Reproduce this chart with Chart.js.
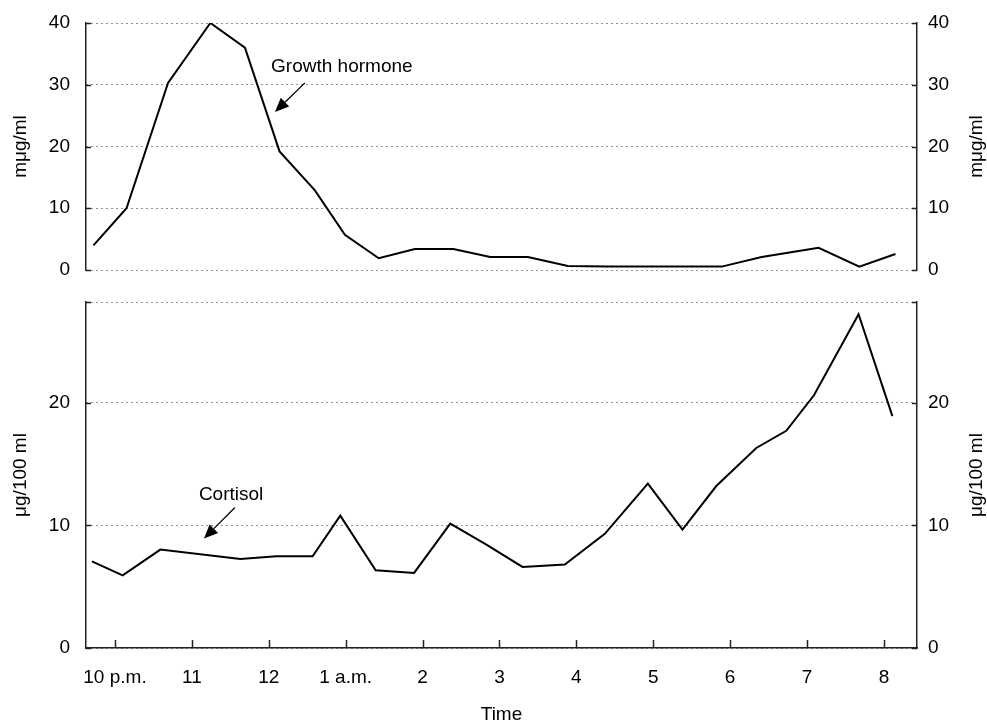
<!DOCTYPE html>
<html><head><meta charset="utf-8">
<script src="https://cdn.jsdelivr.net/npm/chart.js@4/dist/chart.umd.min.js"></script>
<style>
html,body{margin:0;padding:0;background:#fff;}
#wrap{position:relative;width:987px;height:722px;overflow:hidden;}
#top{position:absolute;left:0;top:0;width:987px;height:290px;}
#bot{position:absolute;left:0;top:290px;width:987px;height:432px;}
</style></head><body>
<div id="wrap"><div id="top"><canvas id="c1"></canvas></div><div id="bot"><canvas id="c2"></canvas></div></div>
<script>
// ---- data (hours after 10 p.m.) ----
const timeTickValues = [0,1,2,3,4,5,6,7,8,9,10];
const timeTickLabels = ['10 p.m.','11','12','1 a.m.','2','3','4','5','6','7','8'];
const ghHours  = [-0.28,0.15,0.69,1.24,1.69,2.14,2.60,2.99,3.43,3.90,4.40,4.88,5.37,5.89,6.40,6.90,7.40,7.89,8.41,9.15,9.68,10.15];
const ghValues = [4.0,10.0,30.3,40.0,36.0,19.2,12.9,5.7,1.9,3.4,3.4,2.1,2.1,0.65,0.55,0.55,0.55,0.55,2.1,3.6,0.55,2.6];
const cortHours  = [-0.30,0.10,0.59,1.63,2.10,2.57,2.93,3.39,3.89,4.36,4.83,5.30,5.85,6.37,6.93,7.38,7.82,8.34,8.73,9.09,9.67,10.11];
const cortValues = [7.06,5.92,8.02,7.26,7.48,7.48,10.79,6.33,6.12,10.14,8.43,6.61,6.80,9.3,13.4,9.65,13.2,16.3,17.7,20.6,27.2,18.9];
const ghTicks = [0,10,20,30,40];
const cortTicks = [0,10,20];
const X_MIN = -0.377, X_MAX = 10.43;
const GH_MAX = 40, CORT_MAX = 28.2;
const ghUnit = 'm\u03bcg/ml';
const cortUnit = '\u03bcg/100 ml';
const xTitle = 'Time';
// annotation anchors in data units
const ghNote = {text:'Growth hormone', x:2.03, y:32.9, from:[2.47,30.3], to:[2.08,25.6]};
const cortNote = {text:'Cortisol', x:1.51, y:12.5, from:[1.56,11.45], to:[1.157,8.92]};

const FONT = '"Liberation Sans", Arial, sans-serif';
const INK = '#000';
const AXIS = '#222';
Chart.defaults.font.family = FONT;
Chart.defaults.font.size = 19;
Chart.defaults.color = INK;

function vText(ctx, text, x, y){
  ctx.save(); ctx.translate(x,y); ctx.rotate(-Math.PI/2);
  ctx.textAlign='center'; ctx.textBaseline='middle'; ctx.fillText(text,0,0); ctx.restore();
}
function seg(ctx,x1,y1,x2,y2){ctx.beginPath();ctx.moveTo(x1,y1);ctx.lineTo(x2,y2);ctx.stroke();}
function arrow(ctx, x1,y1,x2,y2){
  ctx.lineWidth=1.3; ctx.strokeStyle=INK; ctx.fillStyle=INK;
  const a=Math.atan2(y2-y1,x2-x1), L=14, W=6;
  const bx=x2-L*Math.cos(a), by=y2-L*Math.sin(a);
  seg(ctx,x1,y1,bx,by);
  ctx.beginPath(); ctx.moveTo(x2,y2);
  ctx.lineTo(bx+W*Math.sin(a), by-W*Math.cos(a));
  ctx.lineTo(bx-W*Math.sin(a), by+W*Math.cos(a));
  ctx.closePath(); ctx.fill();
}
function makeDecor(cfg){
  return {
    id:'decor',
    afterDraw(chart){
      const ctx=chart.ctx, ca=chart.chartArea, sx=chart.scales.x, sy=chart.scales.y, sy2=chart.scales.y2;
      ctx.save();
      ctx.strokeStyle=AXIS; ctx.lineWidth=1.5;
      for(const t of sy.ticks){const p=Math.round(sy.getPixelForValue(t.value))+0.5; seg(ctx,ca.left,p,ca.left+5,p);}
      for(const t of sy2.ticks){const p=Math.round(sy2.getPixelForValue(t.value))+0.5; seg(ctx,ca.right-5,p,ca.right,p);}
      if(cfg.xTicks){for(const t of sx.ticks){const p=Math.round(sx.getPixelForValue(t.value))+0.5; seg(ctx,p,ca.bottom,p,ca.bottom-8);}}
      ctx.fillStyle=INK; ctx.font='19px '+FONT;
      const cy=(ca.top+ca.bottom)/2;
      vText(ctx,cfg.unit,21,cy);
      vText(ctx,cfg.unit,977,cy);
      if(cfg.xTitle){ctx.textAlign='center';ctx.textBaseline='alphabetic';ctx.fillText(cfg.xTitle,(ca.left+ca.right)/2,chart.height-2);}
      const n=cfg.note;
      ctx.textAlign=cfg.noteAlign; ctx.textBaseline='middle';
      ctx.fillText(n.text, sx.getPixelForValue(n.x), sy.getPixelForValue(n.y));
      arrow(ctx, sx.getPixelForValue(n.from[0]), sy.getPixelForValue(n.from[1]), sx.getPixelForValue(n.to[0]), sy.getPixelForValue(n.to[1]));
      ctx.restore();
    }
  };
}
function yScale(pos, max, tickVals, width, pad, grid){
  return {
    position:pos, min:0, max:max,
    afterBuildTicks:s=>{const v=tickVals.slice(); if(max>v[v.length-1]) v.push(max); s.ticks=v.map(x=>({value:x}));},
    afterFit:s=>{s.width=width; s.paddingTop=0; s.paddingBottom=0;},
    ticks:{padding:pad, color:INK, callback:v=>tickVals.includes(v)?String(v):''},
    grid:{display:grid, drawTicks:false, color:'#222', lineWidth:1},
    border:{display:true, color:AXIS, width:1.5, dash:[1,4]}
  };
}
const toPts=(xs,ys)=>xs.map((h,i)=>({x:h,y:ys[i]}));
const lineDs=(pts)=>({data:pts, showLine:true, borderColor:'#000', borderWidth:2, pointRadius:0, tension:0, fill:false, yAxisID:'y'});

new Chart(document.getElementById('c1'),{
  type:'scatter',
  data:{datasets:[lineDs(toPts(ghHours,ghValues))]},
  options:{
    responsive:true, maintainAspectRatio:false, animation:false,
    layout:{padding:{top:23,bottom:20,left:0,right:0}},
    plugins:{legend:{display:false},tooltip:{enabled:false}},
    scales:{
      x:{type:'linear',min:X_MIN,max:X_MAX,display:false},
      y:yScale('left',GH_MAX,ghTicks,86,16,true),
      y2:yScale('right',GH_MAX,ghTicks,70,11,false)
    }
  },
  plugins:[makeDecor({unit:ghUnit,note:ghNote,noteAlign:'left',xTicks:false})]
});

new Chart(document.getElementById('c2'),{
  type:'scatter',
  data:{datasets:[lineDs(toPts(cortHours,cortValues))]},
  options:{
    responsive:true, maintainAspectRatio:false, animation:false,
    layout:{padding:{top:12,bottom:0,left:0,right:0}},
    plugins:{legend:{display:false},tooltip:{enabled:false}},
    scales:{
      x:{type:'linear',position:'bottom',min:X_MIN,max:X_MAX,
         afterBuildTicks:s=>{s.ticks=timeTickValues.map(v=>({value:v}));},
         afterFit:s=>{s.height=74; s.paddingLeft=0; s.paddingRight=0;},
         ticks:{padding:18,color:INK,autoSkip:false,maxRotation:0,callback:(v,i)=>timeTickLabels[i]},
         grid:{display:false,drawTicks:false},
         border:{display:true,color:AXIS,width:1.5}},
      y:yScale('left',CORT_MAX,cortTicks,86,16,true),
      y2:yScale('right',CORT_MAX,cortTicks,70,11,false)
    }
  },
  plugins:[makeDecor({unit:cortUnit,note:cortNote,noteAlign:'center',xTicks:true,xTitle:xTitle})]
});
</script>
</body></html>
